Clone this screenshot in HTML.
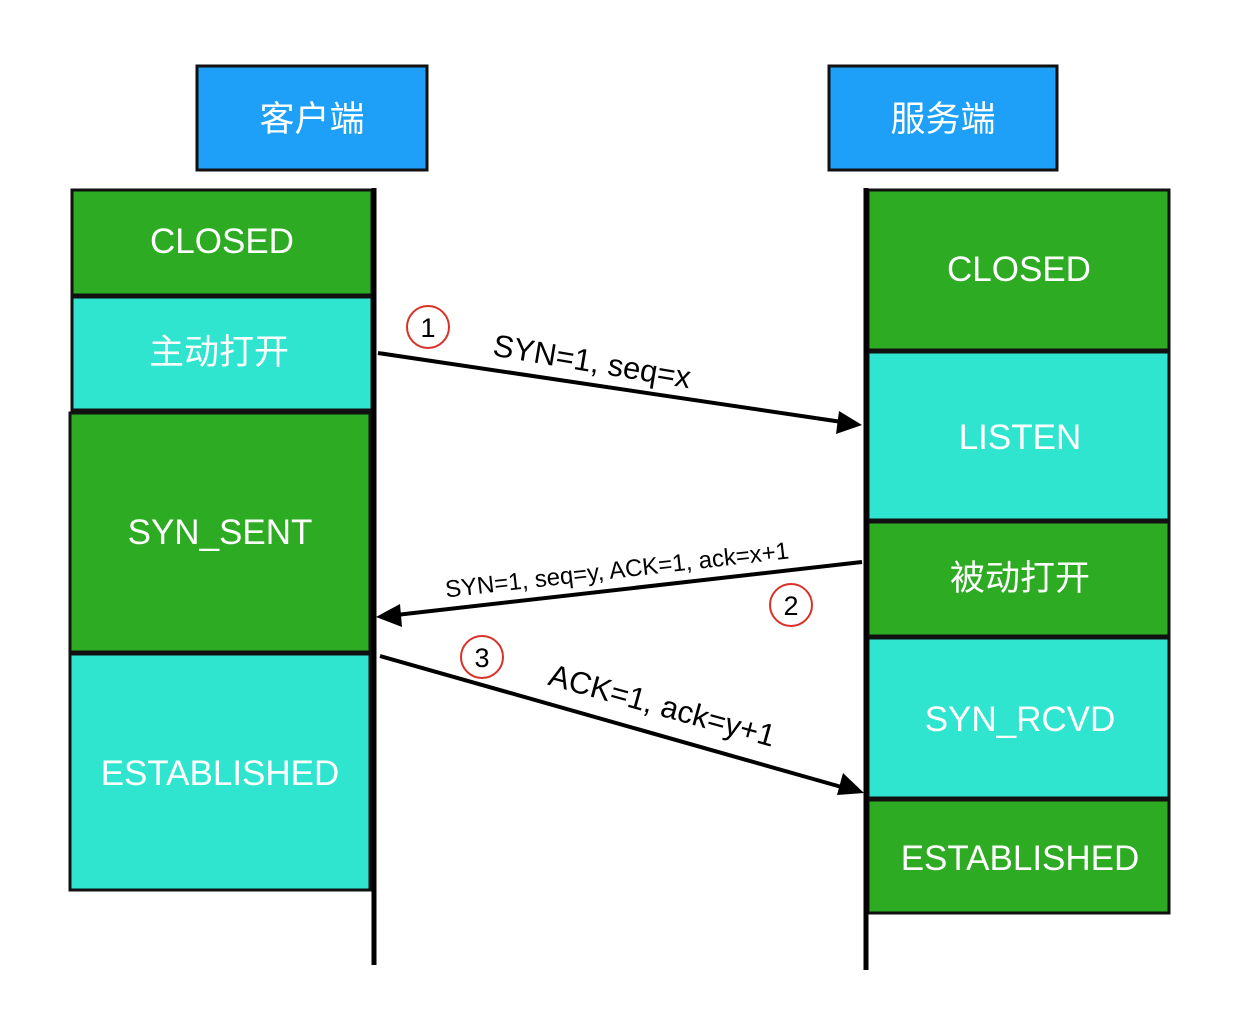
<!DOCTYPE html>
<html><head><meta charset="utf-8"><style>body{margin:0;background:#fff}svg{display:block}</style></head><body>
<svg width="1256" height="1012" xmlns="http://www.w3.org/2000/svg" font-family="'Liberation Sans','Noto Sans CJK SC',sans-serif">
<g stroke="#111" stroke-width="3">
<rect x="197" y="66" width="230" height="104" fill="#1fa0f8"/>
<rect x="829" y="66" width="228" height="104" fill="#1fa0f8"/>
<rect x="72" y="190" width="300" height="105" fill="#2dab22"/>
<rect x="72" y="297" width="300" height="113" fill="#30e5d0"/>
<rect x="70" y="413" width="300" height="239" fill="#2dab22"/>
<rect x="70" y="654" width="300" height="236" fill="#30e5d0"/>
<rect x="868" y="190" width="301" height="160" fill="#2dab22"/>
<rect x="868" y="352" width="301" height="168" fill="#30e5d0"/>
<rect x="868" y="522" width="301" height="114" fill="#2dab22"/>
<rect x="868" y="638" width="301" height="160" fill="#30e5d0"/>
<rect x="868" y="800" width="301" height="113" fill="#2dab22"/>
</g>
<line x1="374" y1="188" x2="374" y2="965" stroke="#000" stroke-width="5"/>
<line x1="866" y1="188" x2="866" y2="970" stroke="#000" stroke-width="5"/>
<g fill="#fff" font-size="35" text-anchor="middle">
<text x="312" y="131">客户端</text>
<text x="943" y="131">服务端</text>
</g>
<g fill="#fff" font-size="35" text-anchor="middle">
<text x="222" y="253">CLOSED</text>
<text x="219" y="364">主动打开</text>
<text x="220" y="544">SYN_SENT</text>
<text x="220" y="785">ESTABLISHED</text>
<text x="1019" y="281">CLOSED</text>
<text x="1020" y="449">LISTEN</text>
<text x="1020" y="590">被动打开</text>
<text x="1020" y="731">SYN_RCVD</text>
<text x="1020" y="870">ESTABLISHED</text>
</g>
<g stroke="#000" stroke-width="4">
<line x1="378" y1="353" x2="842" y2="422"/>
<line x1="862" y1="562" x2="396" y2="615"/>
<line x1="380" y1="656" x2="845" y2="788"/>
</g>
<polygon points="862,425 836,434 839,411" fill="#000"/>
<polygon points="376,617 400,604 402,627" fill="#000"/>
<polygon points="864,793 837,795 843,773" fill="#000"/>
<g fill="none" stroke="#d9302a" stroke-width="2">
<circle cx="428" cy="327" r="21"/><circle cx="791" cy="605" r="21"/><circle cx="482" cy="657" r="21"/>
</g>
<g font-size="27" text-anchor="middle" fill="#000">
<text x="428" y="337">1</text><text x="791" y="615">2</text><text x="482" y="667">3</text>
</g>
<g fill="#000" text-anchor="middle">
<text x="592" y="372" font-size="31" transform="rotate(9.5 592 362)">SYN=1, seq=x</text>
<text x="617" y="578" font-size="24" transform="rotate(-6.5 617 570)">SYN=1, seq=y, ACK=1, ack=x+1</text>
<text x="662" y="716" font-size="31" transform="rotate(15.5 662 706)">ACK=1, ack=y+1</text>
</g>
</svg>
</body></html>
